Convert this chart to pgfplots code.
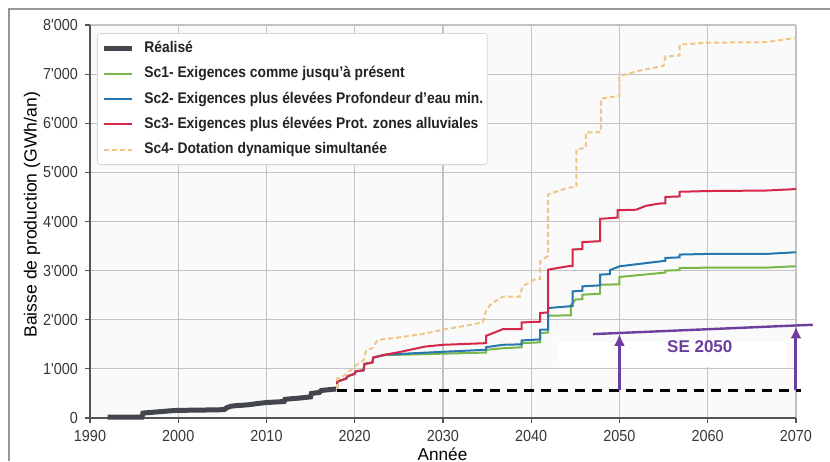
\documentclass[border=0pt]{standalone}
\usepackage{fontspec}
\setmainfont{Liberation Sans}
\newfontfamily\condfont{Liberation Sans}[FakeStretch=0.9]
\usepackage{pgfplots}
\pgfplotsset{compat=1.18}
\usetikzlibrary{arrows.meta}
\definecolor{realise}{RGB}{68,70,78}
\definecolor{scone}{RGB}{122,182,72}
\definecolor{sctwo}{RGB}{38,118,175}
\definecolor{scthree}{RGB}{214,39,72}
\definecolor{scfour}{RGB}{238,198,135}
\definecolor{purp}{RGB}{108,62,160}
\definecolor{gridc}{RGB}{195,195,195}
\definecolor{spine}{RGB}{85,85,85}
\definecolor{ticktext}{RGB}{55,55,55}
\definecolor{bgc}{RGB}{250,250,250}
\definecolor{legendborder}{RGB}{215,215,215}
\definecolor{legendtext}{RGB}{35,35,35}
\definecolor{framec}{RGB}{150,150,150}
\begin{document}
\begin{tikzpicture}
\begin{axis}[name=ax, at={(0,0)}, anchor=south west,
  scale only axis, width=353pt, height=196.5pt,
  xmin=1990, xmax=2070, ymin=0, ymax=8000,
  axis x line*=bottom, axis y line*=left,
  axis line style={draw=spine, line width=0.7pt},
  tick align=outside, major tick length=2.5pt,
  tick style={draw=spine, line width=0.6pt},
  xtick={1990,2000,2010,2020,2030,2040,2050,2060,2070},
  xticklabels={1990,2000,2010,2020,2030,2040,2050,2060,2070},
  ytick={0,1000,2000,3000,4000,5000,6000,7000,8000},
  yticklabels={0,1'000,2'000,3'000,4'000,5'000,6'000,7'000,8'000},
  ticklabel style={font=\condfont\fontsize{8}{9}\selectfont, text=ticktext},
  grid=major, grid style={draw=gridc, line width=0.6pt},
  axis background/.style={fill=bgc},
  clip=false,
  xlabel={Année},
  ylabel={Baisse de production (GWh/an)},
  xlabel style={at={(axis description cs:0.4993,-0.0916)}, anchor=center, fill=white, inner sep=1.5pt, font=\fontsize{8.6}{9}\selectfont},
  ylabel style={at={(axis description cs:-0.082,0.517)}, anchor=center, fill=white, inner sep=1.5pt, font=\fontsize{8.8}{9}\selectfont},
  legend cell align=left,
  legend image code/.code={\draw[#1] (0pt,0pt) -- (14pt,0pt);},
  legend style={at={(0.0099,0.9796)}, anchor=north west, draw=legendborder, fill=white,
    rounded corners=1.5pt, font=\condfont\bfseries\fontsize{7.7}{8}\selectfont, text=legendtext,
    row sep=5.5pt, inner xsep=2pt, inner ysep=3.8pt,
    nodes={inner sep=0pt, text height=5.6pt, text depth=1.6pt},
    /tikz/every odd column/.append style={column sep=5pt}},
]
\fill[white] (axis cs:2043.2,1046) rectangle (axis cs:2068.9,1557);

\addplot[realise, line width=2.5pt] coordinates {
(1992,20) (1995.9,20) (1996,100) (1997,115) (1998,130) (1999,145) (2000,155) (2002,160) (2004,165) (2005.2,170) (2005.5,210) (2006,240) (2006.5,250) (2008,270) (2009,295) (2010,315) (2011.5,330) (2012,335) (2012.1,380) (2013,395) (2014,410) (2015,430) (2015.1,500) (2016,520) (2016.2,560) (2017,575) (2017.9,590)};
\addlegendentry{Réalisé}

\addplot[scone, line width=1pt] coordinates {
(2018,590) (2018,740) (2019,800) (2019.2,850) (2020,900) (2020.1,950) (2021,970) (2021.1,1100) (2022,1130) (2022.1,1230) (2023,1270) (2023.5,1280)
(2028,1300) (2034.9,1333) (2034.9,1388) (2036.8,1420) (2038.9,1440) (2038.9,1524) (2041,1540) (2041,1728) (2041.9,1740) (2041.9,2082) (2044.5,2090) (2044.5,2300) (2045,2410) (2045.8,2420) (2045.8,2510) (2047.8,2530) (2047.8,2714) (2050,2720) (2050,2871) (2054.7,2952) (2055.2,2960) (2055.2,3000) (2056.8,3010) (2056.8,3054) (2060,3060) (2066.6,3060) (2070,3090)};
\addlegendentry{Sc1- Exigences comme jusqu’à présent}

\addplot[sctwo, line width=1pt] coordinates {
(2018,590) (2018,740) (2019,800) (2019.2,850) (2020,900) (2020.1,950) (2021,970) (2021.1,1100) (2022,1130) (2022.1,1230) (2023,1270) (2023.5,1290)
(2028,1330) (2034.9,1390) (2034.9,1442) (2036.8,1490) (2038.9,1500) (2038.9,1578) (2041,1600) (2041,1796) (2041.9,1800) (2041.9,2238) (2044.2,2272) (2044.7,2280) (2044.7,2578) (2045.8,2590) (2045.8,2680) (2047.8,2700) (2047.8,2918) (2048.9,2930) (2048.9,3007) (2050,3088) (2054.7,3190) (2055.2,3200) (2055.2,3258) (2056.8,3270) (2056.8,3327) (2060,3340) (2066.6,3340) (2070,3374)};
\addlegendentry{Sc2- Exigences plus élevées Profondeur d’eau min.}

\addplot[scthree, line width=1pt] coordinates {
(2018,590) (2018,740) (2019,800) (2019.2,850) (2020,900) (2020.1,950) (2021,970) (2021.1,1100) (2022,1130) (2022.1,1230) (2023,1270) (2023.5,1290)
(2025,1340) (2028,1455) (2030,1490) (2034.9,1524) (2034.9,1673) (2036.8,1810) (2038.9,1810) (2038.9,1945) (2041,1960) (2041,2136) (2041.9,2150) (2041.9,3020) (2044.2,3090) (2044.7,3090) (2044.7,3430) (2045.8,3440) (2045.8,3580) (2047.8,3600) (2047.8,4054) (2049.8,4080) (2049.8,4230) (2051.9,4240) (2053,4320) (2054.7,4370) (2055.2,4370) (2055.2,4500) (2056.8,4510) (2056.8,4605) (2060,4620) (2066.6,4630) (2070,4660)};
\addlegendentry{Sc3- Exigences plus élevées Prot. zones alluviales}

\addplot[scfour, line width=1pt, dash pattern=on 2.5pt off 1.5pt] coordinates {
(2018,590) (2018,800) (2019,880) (2020,1050) (2021,1180) (2021.3,1380) (2022,1420) (2022.6,1590) (2025,1640) (2028,1720) (2030,1800) (2032,1860) (2034.5,1945) (2034.9,2200) (2035.5,2330) (2036.8,2470) (2038.7,2470) (2039,2680) (2040.4,2820) (2041,2830) (2041,3190) (2041.9,3300) (2041.9,4550) (2044.2,4690) (2045.1,4700) (2045.1,5470) (2046.2,5500) (2046.2,5810) (2047.9,5820) (2047.9,6500) (2050,6560) (2050,6960) (2052,7060) (2055,7170) (2055.2,7360) (2056.8,7380) (2056.8,7600) (2060,7640) (2066.6,7650) (2070,7740)};
\addlegendentry{Sc4- Dotation dynamique simultanée}

\addplot[black, line width=1.5pt, dash pattern=on 5pt off 3.5pt, forget plot] coordinates {(2018,560) (2070.6,560)};

\addplot[purp, line width=1.2pt, forget plot] coordinates {(2047,1708) (2071.9,1898)};
\addplot[purp, line width=1.5pt, -{Latex[length=6pt,width=5.5pt]}, forget plot] coordinates {(2050,560) (2050,1712)};
\addplot[purp, line width=1.5pt, -{Latex[length=6pt,width=5.5pt]}, forget plot] coordinates {(2070,560) (2070,1864)};
\node[font=\bfseries\fontsize{8.5}{9}\selectfont, text=purp] at (axis cs:2059.1,1450) {SE 2050};
\end{axis}
\draw[framec, line width=1pt] (-40.5pt,-21.5pt) -- (-40.5pt,204.5pt) -- (370pt,204.5pt);
\pgfresetboundingbox
\path[use as bounding box] (-45pt,-21.5pt) rectangle (370pt,209pt);
\end{tikzpicture}
\end{document}
